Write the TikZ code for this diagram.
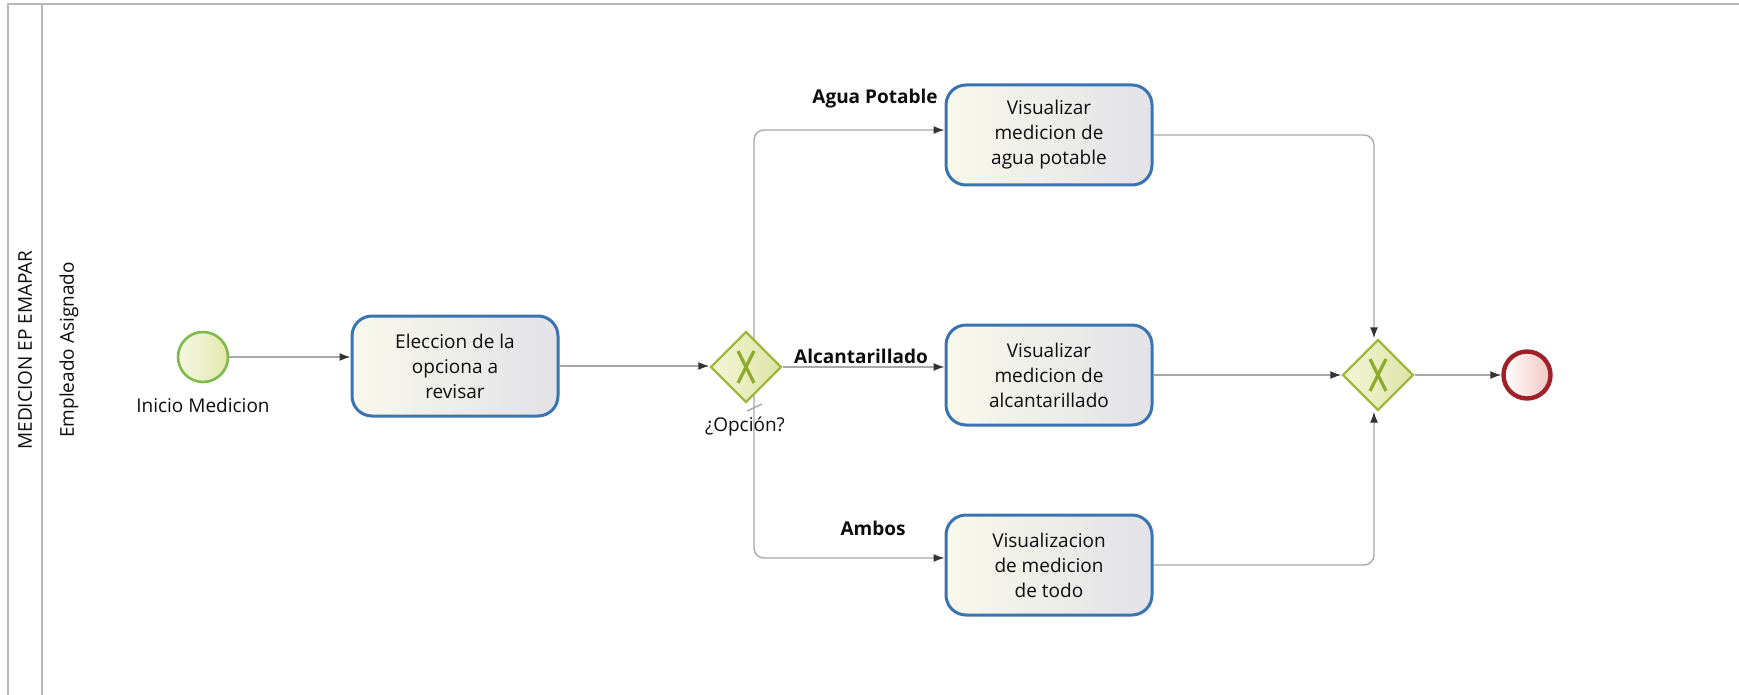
\documentclass[tikz,border=0pt]{standalone}
\usepackage{fontspec}
\setmainfont{Open Sans}
\usepackage{xcolor}
\usepackage{tikz}
\usetikzlibrary{arrows.meta,shapes.geometric,calc,backgrounds}
\definecolor{taskblue}{HTML}{3A74B0}
\definecolor{taskA}{HTML}{F8F8EC}
\definecolor{taskB}{HTML}{E2E2E8}
\definecolor{gatebord}{HTML}{9DB83C}
\definecolor{gatex}{HTML}{8CAA2C}
\definecolor{gateA}{HTML}{F4F6D8}
\definecolor{gateB}{HTML}{DCE4A4}
\definecolor{startgrn}{HTML}{7DBB4A}
\definecolor{startA}{HTML}{F6F7E2}
\definecolor{startB}{HTML}{E2E8AE}
\definecolor{endred}{HTML}{A0202A}
\definecolor{endA}{HTML}{FFFFFF}
\definecolor{endB}{HTML}{F2C6C0}
\definecolor{flowgray}{HTML}{A8A8A8}
\definecolor{poolgray}{HTML}{B8B8B8}

\begin{document}
\begin{tikzpicture}[x=0.5pt,y=-0.5pt,
  every node/.style={font=\fontsize{9.5}{12.5}\selectfont,text=black!95},
  task/.style={rectangle,rounded corners=10pt,draw=taskblue,line width=1.5pt,
    minimum width=103pt,minimum height=50pt,align=center,
    left color=taskA,right color=taskB},
  gate/.style={diamond,draw=gatebord,line width=1.2pt,minimum width=35.5pt,
    minimum height=35.5pt,inner sep=0pt,left color=gateA,right color=gateB,
    path picture={
      \draw[gatex,line width=1.6pt]
        ($(path picture bounding box.center)+(-8,-16)$) -- ($(path picture bounding box.center)+(8,16)$)
        ($(path picture bounding box.center)+(8,-16)$) -- ($(path picture bounding box.center)+(-8,16)$);}},
  startev/.style={circle,draw=startgrn,line width=1.3pt,minimum size=25pt,
    inner sep=0pt,left color=startA,right color=startB},
  endev/.style={circle,draw=endred,line width=2.2pt,minimum size=23.5pt,
    inner sep=0pt,left color=endA,right color=endB},
  flow/.style={draw=flowgray,line width=0.7pt,
    -{Latex[length=5.5pt,width=4pt,color=black!80]}},
  lbl/.style={font=\bfseries\fontsize{9.5}{12.5}\selectfont}]
\useasboundingbox (0,0) rectangle (1739,695);
% pool and lane
\draw[poolgray,line width=1pt] (8,695) -- (8,4) -- (1739,4);
\draw[poolgray,line width=1pt] (42,4) -- (42,695);
\node[rotate=90] (pool) at (25,350) {MEDICION EP EMAPAR};
\node[rotate=90] (lane) at (69,350) {Empleado Asignado};
% events, tasks and gateways
\node[startev] (ini) at (203,357) {};
\node (iniL) at (203,405) {Inicio Medicion};
\node[task] (elec) at (455,366) {Eleccion de la\\opciona a\\revisar};
\node[gate] (opc) at (746,367) {};
\node (opcL) at (745,427) {¿Opción?};
\node[task] (agua) at (1049,135) {Visualizar\\medicion de\\agua potable};
\node[task] (alca) at (1049,375) {Visualizar\\medicion de\\alcantarillado};
\node[task] (todo) at (1049,565) {Visualizacion\\de medicion\\de todo};
\node[gate] (une) at (1378,375) {};
\node[endev] (fin) at (1527,375) {};
\node[lbl] (aguaL) at (875,99) {Agua Potable};
\node[lbl] (alcaL) at (861,356) {Alcantarillado};
\node[lbl] (todoL) at (873,528) {Ambos};
% sequence flows
\begin{scope}[on background layer]
\draw[flow] (ini) -- (ini -| elec.west);
\draw[flow] (elec.east) -- (elec.east -| opc.west);
\draw[flow,rounded corners=5pt] ([xshift=4pt]opc.center) |- ([yshift=2.5pt]agua.west);
\draw[flow] (opc.east) -- (opc.east -| alca.west);
\draw[flow,rounded corners=5pt] ([xshift=4pt]opc.center) |- ([yshift=3.5pt]todo.west);
\draw[flow,rounded corners=5pt] (agua.east) -| ([xshift=-2pt]une.north);
\draw[flow] (alca.east) -- (une.west);
\draw[flow,rounded corners=5pt] (todo.east) -| ([xshift=-2pt]une.south);
\draw[flow] (une.east) -- (fin.west);
\end{scope}
\draw[flowgray,line width=0.7pt] (747,411) -- (762,404);
\end{tikzpicture}
\end{document}
